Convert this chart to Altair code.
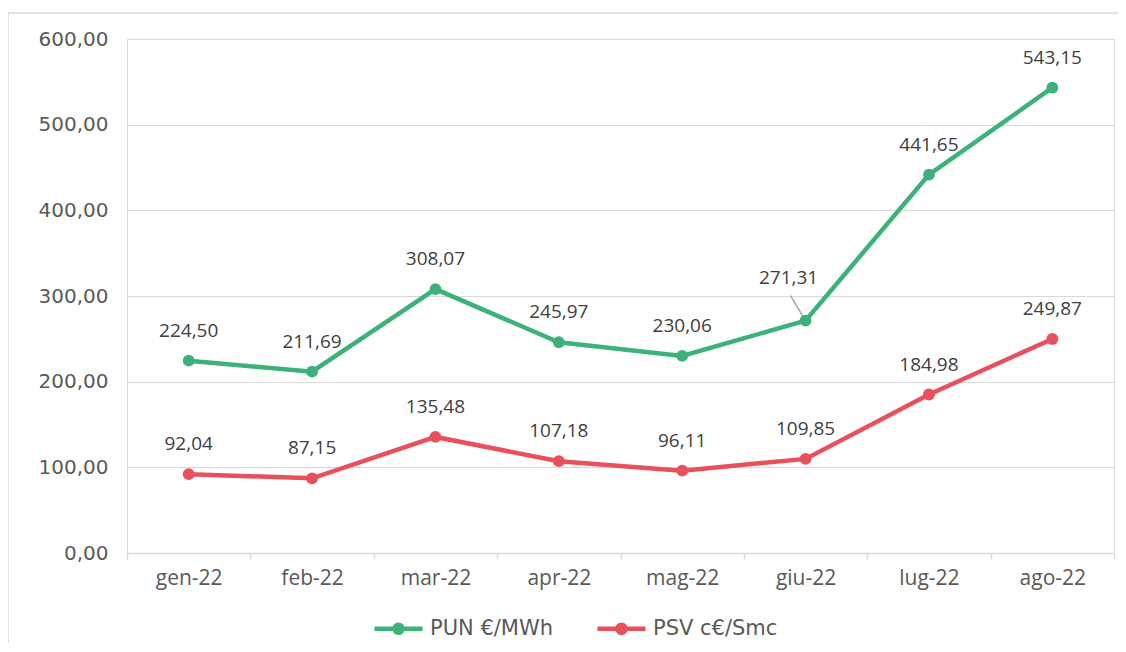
import altair as alt
import pandas as pd

months = ["gen-22", "feb-22", "mar-22", "apr-22", "mag-22", "giu-22", "lug-22", "ago-22"]
pun = [224.50, 211.69, 308.07, 245.97, 230.06, 271.31, 441.65, 543.15]
psv = [92.04, 87.15, 135.48, 107.18, 96.11, 109.85, 184.98, 249.87]
series_names = ["PUN €/MWh", "PSV c€/Smc"]
series_colors = ["#3CB27A", "#E9505B"]
y_ticks = [0, 100, 200, 300, 400, 500, 600]
leader_month = "giu-22"

rows = []
for s, vals in zip(series_names, [pun, psv]):
    for m, v in zip(months, vals):
        rows.append({"month": m, "series": s, "value": v,
                     "leader": bool(s == series_names[0] and m == leader_month)})
df = pd.DataFrame(rows)

fmt = "replace(format(datum.value, '.2f'), '.', ',')"
legend_path = ("M-1,0L1,0M0.17,0A0.17,0.17,0,1,1,-0.17,0"
               "A0.17,0.17,0,1,1,0.17,0Z")

x = alt.X("month:N", sort=months, bandPosition=0.5,
          scale=alt.Scale(type="band", paddingInner=0, paddingOuter=0),
          axis=alt.Axis(title=None, labelAngle=0, tickBand="extent",
                        domainColor="#d9d9d9", domainWidth=1.5,
                        tickColor="#d9d9d9", tickWidth=1.5, tickSize=6,
                        labelFont="Open Sans", labelFontSize=21,
                        labelColor="#595959", labelPadding=8, grid=False))
y = alt.Y("value:Q", scale=alt.Scale(domain=[0, 600], nice=False),
          axis=alt.Axis(title=None, values=y_ticks, labelExpr=fmt,
                        domain=False, ticks=False, gridColor="#d9d9d9",
                        gridWidth=1.2,
                        labelFont="DejaVu Sans", labelFontSize=20,
                        labelColor="#595959", labelPadding=19))
color = alt.Color("series:N", sort=series_names,
                  scale=alt.Scale(domain=series_names, range=series_colors),
                  legend=alt.Legend(title=None, orient="none", legendX=245,
                                    legendY=563, direction="horizontal",
                                    symbolType=legend_path, symbolSize=2304,
                                    symbolStrokeWidth=4.5, labelFont="DejaVu Sans",
                                    labelFontSize=21, labelColor="#595959",
                                    columnPadding=34, labelOffset=5))

base = alt.Chart(df).encode(x=x, y=y, color=color)

line = base.mark_line(strokeWidth=4.5)
pts = base.mark_point(filled=True, size=140, opacity=1)

labels = base.transform_filter("!datum.leader").transform_calculate(
    lab=fmt).mark_text(dy=-30, font="Open Sans", fontSize=19,
                       color="#404040").encode(text="lab:N", color=alt.value("#404040"))
special = base.transform_filter("datum.leader").transform_calculate(
    lab=fmt).mark_text(dx=-17, dy=-43, font="Open Sans", fontSize=19,
                       color="#404040").encode(text="lab:N", color=alt.value("#404040"))
leader = alt.Chart(df).transform_filter("datum.leader").mark_rule(
    color="#a6a6a6", strokeWidth=1.5, xOffset=-15, yOffset=-25,
    x2Offset=-2, y2Offset=-3).encode(
    x=x, x2=alt.X2("month:N", bandPosition=0.5),
    y=alt.Y("value:Q"), y2=alt.Y2("value:Q"))

frame_df = pd.DataFrame({"k": [0]})
border_v = alt.Chart(frame_df).mark_rule(color="#d9d9d9", strokeWidth=1.5).encode(
    x=alt.value(-119), y=alt.value(-26), y2=alt.value(613))
border_h = alt.Chart(frame_df).mark_rule(color="#d9d9d9", strokeWidth=1.5).encode(
    x=alt.value(-119), x2=alt.value(1000), y=alt.value(-26))

chart = alt.layer(border_v, border_h, leader, line, pts, labels, special).properties(
    width=987, height=514,
    autosize=alt.AutoSizeParams(type="none"),
    padding={"left": 119, "top": 31, "right": 4, "bottom": 90},
).configure_view(stroke=None).configure(background="white")

chart.save("out.html", embed_options={"renderer": "svg", "actions": False})
